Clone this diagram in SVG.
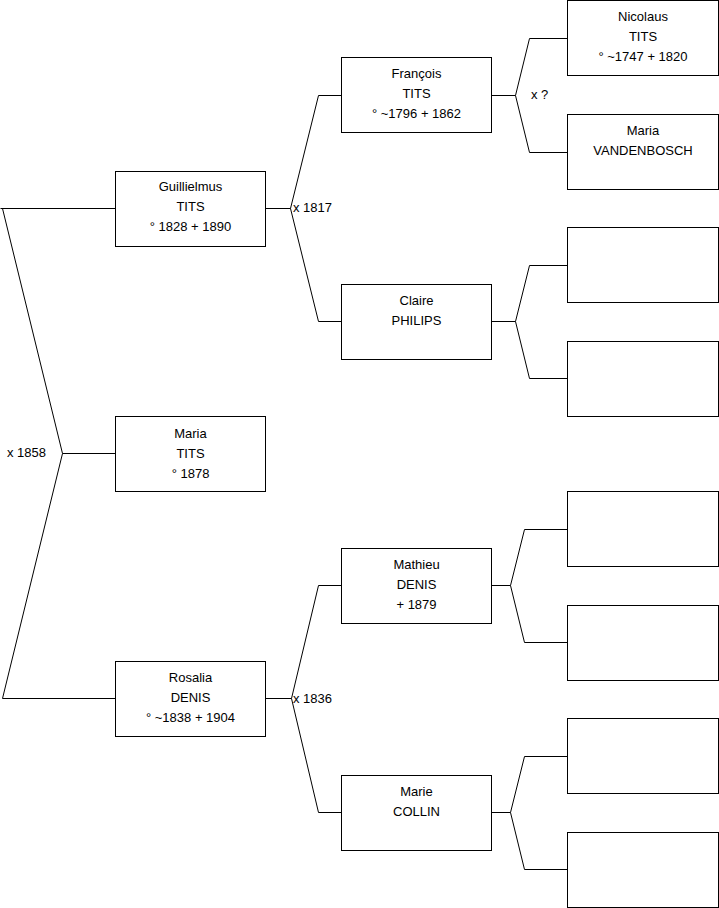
<svg xmlns="http://www.w3.org/2000/svg" width="719" height="908" viewBox="0 0 719 908">
<style>
rect{fill:#fff;stroke:#000;stroke-width:1}
#connectors path{fill:none;stroke:#000;stroke-width:1}
text{font-family:"Liberation Sans",Arial,sans-serif;font-size:13px;fill:#000}
.c{text-anchor:middle}
</style>
<rect x="0" y="0" width="719" height="908" style="stroke:none"/>
<g id="connectors">
<path d="M0.5,208.5H115.5M2.5,208.5L62.5,453.5L2.5,698.5H115.5M62.5,453.5H115.5"/>
<path d="M265.5,208.5H290.5L318.5,95.5H341M290.5,208.5L318.5,321.5H341"/>
<path d="M265.5,698.5H291.5L318.5,585.5H341M291.5,698.5L318.5,812.5H341"/>
<path d="M491.5,95.5H515.5L529.5,38.5H567M515.5,95.5L529.5,152.5H567"/>
<path d="M491.5,321.5H515.5L529.5,265.5H567M515.5,321.5L529.5,378.5H567"/>
<path d="M491.5,585.5H510.5L524.5,529.5H567M510.5,585.5L524.5,642.5H567"/>
<path d="M491.5,812.5H510.5L524.5,756.5H567M510.5,812.5L524.5,869.5H567"/>
</g>
<g id="labels">
<text x="7" y="457">x 1858</text>
<text x="293" y="212">x 1817</text>
<text x="293" y="703">x 1836</text>
<text x="531" y="99">x ?</text>
</g>
<g id="guillielmus"><rect x="115.5" y="171.5" width="150" height="75"/><text class="c" x="190.5" y="191">Guillielmus</text><text class="c" x="190.5" y="211">TITS</text><text class="c" x="190.5" y="231">° 1828 + 1890</text></g>
<g id="maria-tits"><rect x="115.5" y="416.5" width="150" height="75"/><text class="c" x="190.5" y="438">Maria</text><text class="c" x="190.5" y="458">TITS</text><text class="c" x="190.5" y="478">° 1878</text></g>
<g id="rosalia"><rect x="115.5" y="661.5" width="150" height="75"/><text class="c" x="190.5" y="682">Rosalia</text><text class="c" x="190.5" y="702">DENIS</text><text class="c" x="190.5" y="722">° ~1838 + 1904</text></g>
<g id="francois"><rect x="341.5" y="57.5" width="150" height="75"/><text class="c" x="416.5" y="78">François</text><text class="c" x="416.5" y="98">TITS</text><text class="c" x="416.5" y="118">° ~1796 + 1862</text></g>
<g id="claire"><rect x="341.5" y="284.5" width="150" height="75"/><text class="c" x="416.5" y="305">Claire</text><text class="c" x="416.5" y="325">PHILIPS</text></g>
<g id="mathieu"><rect x="341.5" y="548.5" width="150" height="75"/><text class="c" x="416.5" y="569">Mathieu</text><text class="c" x="416.5" y="589">DENIS</text><text class="c" x="416.5" y="609"> + 1879</text></g>
<g id="marie"><rect x="341.5" y="775.5" width="150" height="75"/><text class="c" x="416.5" y="796">Marie</text><text class="c" x="416.5" y="816">COLLIN</text></g>
<g id="nicolaus"><rect x="567.5" y="0.5" width="151" height="75"/><text class="c" x="643" y="21">Nicolaus</text><text class="c" x="643" y="41">TITS</text><text class="c" x="643" y="61">° ~1747 + 1820</text></g>
<g id="maria-vandenbosch"><rect x="567.5" y="114.5" width="151" height="75"/><text class="c" x="643" y="135">Maria</text><text class="c" x="643" y="155">VANDENBOSCH</text></g>
<g id="empty1"><rect x="567.5" y="227.5" width="151" height="75"/></g>
<g id="empty2"><rect x="567.5" y="341.5" width="151" height="75"/></g>
<g id="empty3"><rect x="567.5" y="491.5" width="151" height="75"/></g>
<g id="empty4"><rect x="567.5" y="605.5" width="151" height="75"/></g>
<g id="empty5"><rect x="567.5" y="718.5" width="151" height="75"/></g>
<g id="empty6"><rect x="567.5" y="832.5" width="151" height="75"/></g>
</svg>
